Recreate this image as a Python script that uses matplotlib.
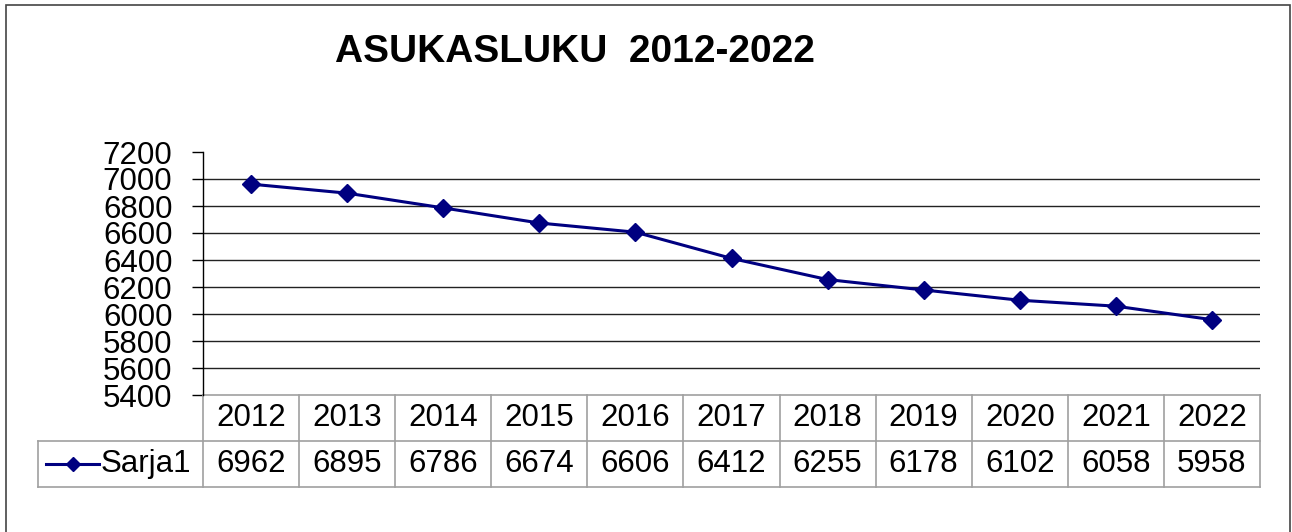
import matplotlib
matplotlib.use("Agg")
import matplotlib.pyplot as plt
from matplotlib.transforms import blended_transform_factory
from matplotlib.lines import Line2D
from matplotlib.patches import Rectangle

years = ["2012", "2013", "2014", "2015", "2016", "2017", "2018", "2019", "2020", "2021", "2022"]
population = [6962, 6895, 6786, 6674, 6606, 6412, 6255, 6178, 6102, 6058, 5958]
series_name = "Sarja1"
title = "ASUKASLUKU  2012-2022"
yticks = list(range(5400, 7201, 200))

plt.rcParams['font.family'] = ['Liberation Sans', 'DejaVu Sans']
W, H = 1292, 532
fig = plt.figure(figsize=(W / 100, H / 100), dpi=100)

# outer frame
fig.patches.append(Rectangle((6 / W, -0.1), (1290 - 6) / W, 1 - 5 / H + 0.1,
                             transform=fig.transFigure, fill=False,
                             edgecolor='#444444', linewidth=1.2))

L, R, T, B = 203, 1260, 152, 395
ax = fig.add_axes([L / W, 1 - B / H, (R - L) / W, (B - T) / H])

navy = '#000080'
x = list(range(len(years)))
ax.plot(x, population, color=navy, linewidth=2.2, marker='D', markersize=9.5,
        markerfacecolor=navy, markeredgecolor=navy, zorder=3)

FS = 22.5
ax.set_xlim(-0.5, len(years) - 0.5)
ax.set_ylim(5400, 7200)
ax.set_yticks(yticks)
ax.set_yticklabels([str(v) for v in yticks], fontsize=FS)
ax.tick_params(axis='y', length=8, width=1, pad=14, colors='black')
ax.set_xticks([])
for s in ['top', 'right', 'bottom']:
    ax.spines[s].set_visible(False)
ax.spines['left'].set_color('black')
ax.spines['left'].set_linewidth(1)
for v in yticks[1:-1]:
    ax.axhline(v, color='#222222', linewidth=1, zorder=1)

# data table
tr = blended_transform_factory(ax.transData, ax.transAxes)
h1 = (441 - 395) / (B - T)
h2 = (487 - 395) / (B - T)
gray = '#a0a0a0'
legend_left = -0.5 - (203 - 38) / ((R - L) / len(years))
n = len(years)

def seg(xs, ys):
    ax.add_line(Line2D(xs, ys, transform=tr, color=gray, linewidth=1.2, clip_on=False))

seg([-0.5, n - 0.5], [0, 0])
seg([legend_left, n - 0.5], [-h1, -h1])
seg([legend_left, n - 0.5], [-h2, -h2])
seg([legend_left, legend_left], [-h1, -h2])
for i in range(n + 1):
    seg([i - 0.5, i - 0.5], [0, -h2])

for i, (yr, val) in enumerate(zip(years, population)):
    ax.text(i, -h1 / 2, yr, transform=tr, ha='center', va='center', fontsize=FS)
    ax.text(i, -(h1 + h2) / 2, str(val), transform=tr, ha='center', va='center', fontsize=FS)

# legend key in table
cw = (R - L) / n
lx0 = legend_left + (46 - 38) / cw
lx1 = legend_left + (99 - 38) / cw
ym = -(h1 + h2) / 2
ax.add_line(Line2D([lx0, lx1], [ym, ym], transform=tr, color=navy, linewidth=2.2, clip_on=False))
ax.add_line(Line2D([(lx0 + lx1) / 2], [ym], transform=tr, color=navy, marker='D',
                   markersize=7.5, clip_on=False))
ax.text(legend_left + (101 - 38) / cw, ym, series_name, transform=tr,
        ha='left', va='center', fontsize=FS)

fig.text(575 / W, 1 - 52 / H, title, ha='center', va='center', fontsize=28,
         fontweight='bold')

fig.savefig('out.png', dpi=100)
